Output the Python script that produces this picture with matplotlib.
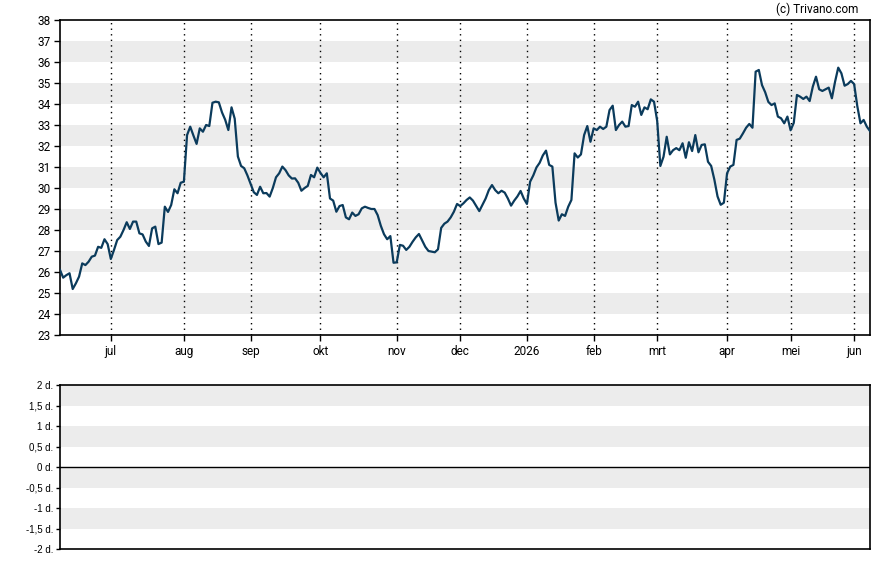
import matplotlib
matplotlib.use("Agg")
import matplotlib.pyplot as plt
import numpy as np

# koers per handelsdag (index 0 = begin van de grafiek)
koers = [
    26.10, 25.73, 25.85, 25.94, 25.19, 25.46, 25.78, 26.41, 26.33, 26.49,
    26.73, 26.78, 27.20, 27.15, 27.56, 27.33, 26.62, 27.05, 27.52, 27.68,
    28.00, 28.37, 28.05, 28.40, 28.40, 27.84, 27.79, 27.45, 27.24, 28.08,
    28.16, 27.33, 27.40, 29.11, 28.86, 29.19, 29.94, 29.75, 30.25, 30.30,
    32.52, 32.92, 32.50, 32.10, 32.84, 32.68, 33.00, 32.95, 34.06, 34.11,
    34.08, 33.60, 33.25, 32.76, 33.84, 33.30, 31.50, 31.05, 30.94, 30.60,
    30.20, 29.80, 29.67, 30.06, 29.75, 29.76, 29.59, 30.00, 30.51, 30.70,
    31.02, 30.85, 30.60, 30.45, 30.46, 30.25, 29.87, 30.00, 30.10, 30.62,
    30.51, 30.97, 30.72, 30.51, 30.70, 29.50, 29.40, 28.87, 29.14, 29.19,
    28.60, 28.51, 28.83, 28.67, 28.75, 29.03, 29.11, 29.05, 29.00, 29.00,
    28.71, 28.20, 27.80, 27.56, 27.71, 26.44, 26.46, 27.29, 27.25, 27.05,
    27.20, 27.44, 27.65, 27.81, 27.50, 27.20, 27.00, 26.97, 26.94, 27.08,
    28.10, 28.30, 28.40, 28.60, 28.87, 29.24, 29.14, 29.27, 29.43, 29.55,
    29.40, 29.15, 28.90, 29.20, 29.50, 29.90, 30.14, 29.90, 29.75, 29.87,
    29.78, 29.50, 29.16, 29.40, 29.60, 29.86, 29.50, 29.24, 30.30, 30.60,
    30.98, 31.20, 31.55, 31.78, 31.10, 31.02, 29.30, 28.45, 28.75, 28.67,
    29.11, 29.43, 31.65, 31.45, 31.60, 32.52, 32.95, 32.20, 32.84, 32.76,
    32.92, 32.81, 32.92, 33.71, 33.92, 32.76, 33.00, 33.16, 32.92, 32.95,
    33.95, 33.87, 34.11, 33.48, 33.84, 33.75, 34.22, 34.11, 33.20, 31.05,
    31.49, 32.44, 31.60, 31.80, 31.90, 31.80, 32.13, 31.44, 32.18, 31.76,
    32.52, 31.70, 32.05, 32.08, 31.25, 31.05, 30.40, 29.60, 29.20, 29.30,
    30.70, 31.02, 31.10, 32.29, 32.35, 32.60, 32.87, 33.05, 32.87, 35.54,
    35.62, 34.90, 34.56, 34.10, 33.95, 34.03, 33.40, 33.32, 33.08, 33.40,
    32.75, 33.10, 34.43, 34.35, 34.24, 34.35, 34.14, 34.83, 35.30, 34.70,
    34.62, 34.70, 34.78, 34.27, 35.06, 35.73, 35.46, 34.87, 34.95, 35.10,
    34.95, 33.90, 33.08, 33.24, 32.92, 32.71,
]
dagen = np.arange(len(koers))

# eerste handelsdag van elke maand
maand_pos = [16, 39, 60, 82, 106, 126, 147, 168, 188, 210, 230, 250]
maand_labels = ['jul', 'aug', 'sep', 'okt', 'nov', 'dec', '2026',
                'feb', 'mrt', 'apr', 'mei', 'jun']

y_ticks = list(range(23, 39))
onder_ticks = [2, 1.5, 1, 0.5, 0, -0.5, -1, -1.5, -2]
onder_labels = ['2 d.', '1,5 d.', '1 d.', '0,5 d.', '0 d.',
                '-0,5 d.', '-1 d.', '-1,5 d.', '-2 d.']

lijnkleur = '#0b3b5c'
band = '#ececec'

fig = plt.figure(figsize=(8.88, 5.65), dpi=100)
ax = fig.add_axes([60/888, 1-335/565, 810/888, 315/565])
ax2 = fig.add_axes([60/888, 1-549/565, 810/888, 164/565])

# bovenste grafiek
for k in range(24, 38, 2):
    ax.axhspan(k, k+1, color=band, lw=0, zorder=0)
for p in maand_pos:
    ax.axvline(p, color='black', ls=(0, (1, 3)), lw=1, zorder=1)
ax.plot(dagen, koers, color=lijnkleur, lw=1.6, zorder=3)

ax.set_xlim(0, len(koers) - 1)
ax.set_ylim(23, 38)
ax.set_yticks(y_ticks)
ax.set_xticks(maand_pos)
ax.set_xticklabels(maand_labels)
ax.tick_params(axis='both', labelsize=8.5, length=4, width=1, color='black',
               pad=3)
for lbl in ax.get_xticklabels() + ax.get_yticklabels():
    lbl.set_fontfamily('Roboto')
for s in ax.spines.values():
    s.set_linewidth(1.2)

fig.text(858/888, 1-9/565, '(c) Trivano.com', ha='right', va='center',
         fontsize=8.5, family='Roboto')

# onderste grafiek
for lo, hi in [(1.5, 2), (0.5, 1), (-0.5, 0), (-1.5, -1)]:
    ax2.axhspan(lo, hi, color=band, lw=0, zorder=0)
ax2.axhline(0, color='black', lw=1)
ax2.set_xlim(0, len(koers) - 1)
ax2.set_ylim(-2, 2)
ax2.set_xticks([])
ax2.set_yticks(onder_ticks)
ax2.set_yticklabels(onder_labels)
ax2.tick_params(axis='y', labelsize=7, length=3, width=1, pad=2)
for lbl in ax2.get_yticklabels():
    lbl.set_fontfamily('Liberation Sans')
for s in ax2.spines.values():
    s.set_linewidth(1.2)

fig.savefig('out.png', dpi=100)
